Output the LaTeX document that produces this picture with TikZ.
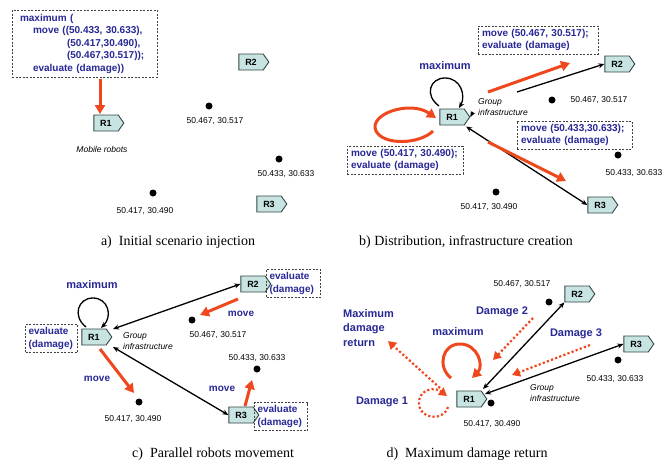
\documentclass[tikz,border=0pt]{standalone}
\usepackage{fontspec}
\setmainfont{Liberation Serif}
\setsansfont{Liberation Sans}
\usetikzlibrary{arrows.meta,shapes.symbols}
\definecolor{myred}{RGB}{240,72,30}
\definecolor{myblue}{RGB}{40,40,150}
\definecolor{robfill}{RGB}{200,228,226}
\definecolor{robdraw}{RGB}{50,70,70}
\tikzset{
  robot/.style={shape=signal, signal to=east, signal pointer angle=110, draw=robdraw, fill=robfill,
    line width=0.9pt, minimum width=30pt, minimum height=16pt, inner sep=1pt,
    font=\sffamily\bfseries\fontsize{9}{9}\selectfont},
  cbox/.style={draw=black!75, dash pattern=on 2pt off 1.5pt, line width=0.8pt, text=myblue,
    font=\sffamily\bfseries\fontsize{10}{12.5}\selectfont, align=left, inner sep=3pt},
  dot/.style={circle, fill=black, inner sep=0pt, minimum size=7pt},
  coordlbl/.style={font=\sffamily\fontsize{8.5}{9}\selectfont, inner sep=0pt},
  grouplbl/.style={font=\sffamily\itshape\fontsize{8.5}{10.5}\selectfont, align=left, inner sep=0pt},
  bluelbl/.style={font=\sffamily\bfseries\fontsize{11}{14}\selectfont, text=myblue, inner sep=0pt},
  movelbl/.style={font=\sffamily\bfseries\fontsize{10}{12}\selectfont, text=myblue, inner sep=0pt},
  caption/.style={font=\fontsize{14}{16}\selectfont, inner sep=0pt},
  redarr/.style={draw=myred, line width=3pt, -{Triangle[length=9pt,width=10pt]}},
  redloop/.style={draw=myred, line width=3pt, -{Triangle[length=9pt,width=10pt]}},
  reddot/.style={draw=myred, line width=2.2pt, dash pattern=on 2.2pt off 2.2pt, -{Triangle[length=8pt,width=9pt]}},
  blkarr/.style={draw=black, line width=1.3pt, -{Stealth[length=6pt,width=5pt]}},
  blkdbl/.style={draw=black, line width=1.3pt, {Stealth[length=6pt,width=5pt]}-{Stealth[length=6pt,width=5pt]}},
}
\begin{document}
\begin{tikzpicture}[x=1pt,y=-1pt]
\useasboundingbox[fill=white] (0,0) rectangle (671,464);

% ---------------- panel a
\node[cbox, minimum width=145pt, minimum height=67pt, text width=129pt] (boxA) at (84.5,43.5)
 {maximum (\\ \hspace*{13pt}move ((50.433, 30.633),\\ \hspace*{47pt}(50.417,30.490),\\ \hspace*{47pt}(50.467,30.517));\\ \hspace*{13pt}evaluate (damage))};
\node[robot] (R1a) at (106,123) {R1};
\coordinate (a0) at (100,79);
\coordinate (a1) at (100,114);
\draw[redarr] (a0) -- (a1);
\node[grouplbl] (mob) at (102,149) {Mobile robots};
\node[robot] (R2a) at (251,62) {R2};
\node[dot] (da1) at (209,106) {};
\node[coordlbl] (la1) at (215,121) {50.467, 30.517};
\node[dot] (da2) at (279,159) {};
\node[coordlbl] (la2) at (286,174) {50.433, 30.633};
\node[dot] (da3) at (153,193) {};
\node[coordlbl] (la3) at (145,211) {50.417, 30.490};
\node[robot] (R3a) at (269,204) {R3};
\node[caption] (capA) at (178,242) {a)\ \ Initial scenario injection};

% ---------------- panel b
\node[cbox, minimum width=120pt, minimum height=26pt, text width=112pt] (boxB1) at (538,40)
 {move (50.467, 30.517);\\ evaluate (damage)};
\node[robot] (R2b) at (617,64) {R2};
\node[bluelbl] (maxb) at (445,66) {maximum};
\node[robot] (R1b) at (452,117) {R1};
\coordinate (bl0) at (439,106);
\coordinate (bl1) at (459,108);
\draw[blkarr] (bl0) .. controls (424,95) and (430,78) .. (445,78) .. controls (461,78) and (466,96) .. (bl1);
\node[grouplbl, anchor=west] (grpb) at (478,107) {Group\\infrastructure};
\coordinate (g0) at (473,112);
\draw[blkarr] (g0) -- (R1b.east);
\coordinate (rl0) at (433,131);
\coordinate (rl1) at (436,118);
\draw[redloop] (rl0) .. controls (420,144) and (384,146) .. (376,131) .. controls (368,114) and (410,100) .. (rl1);
\node[cbox, minimum width=116pt, minimum height=26pt, text width=108pt] (boxB2) at (405,160)
 {move (50.417, 30.490);\\ evaluate (damage)};
\coordinate (r20) at (488,92);
\coordinate (r21) at (570,63);
\draw[redarr] (r20) -- (r21);
\coordinate (k20) at (517,92);
\draw[blkarr] (k20) -- (R2b.west);
\node[dot] (db1) at (552,100) {};
\node[coordlbl] (lb1) at (599,100) {50.467, 30.517};
\node[cbox, minimum width=115pt, minimum height=26pt, text width=107pt] (boxB3) at (574.5,135)
 {move (50.433,30.633);\\ evaluate (damage)};
\node[dot] (db2) at (618,155) {};
\node[coordlbl] (lb2) at (634,173) {50.433, 30.633};
\node[robot] (R3b) at (600,205) {R3};
\draw[blkdbl, shorten <=2pt] (R1b.south east) -- (R3b.west);
\coordinate (r30) at (488,142);
\coordinate (r31) at (566,181);
\draw[redarr] (r30) -- (r31);
\node[dot] (db3) at (496,192) {};
\node[coordlbl] (lb3) at (489,207) {50.417, 30.490};
\node[caption] (capB) at (466,242) {b) Distribution, infrastructure creation};

% ---------------- panel c
\node[bluelbl] (maxc) at (92,285) {maximum};
\node[robot] (R1c) at (94,337) {R1};
\coordinate (cl0) at (86,327);
\coordinate (cl1) at (101,328);
\draw[blkarr] (cl0) .. controls (72,316) and (78,298) .. (93,298) .. controls (108,298) and (113,316) .. (cl1);
\node[cbox, minimum width=51pt, minimum height=23pt, text width=46pt] (boxC1) at (51.5,338.5)
 {evaluate\\(damage)};
\node[grouplbl, anchor=west] (grpc) at (123,341) {Group\\infrastructure};
\node[robot] (R2c) at (253,284) {R2};
\node[cbox, minimum width=53pt, minimum height=23pt, text width=48pt] (boxC2) at (293.5,283.5)
 {evaluate\\(damage)};
\coordinate (k10) at (113,329);
\draw[blkdbl] (k10) -- (R2c.west);
\coordinate (m20) at (238,299);
\coordinate (m21) at (200,315);
\draw[redarr] (m20) -- (m21);
\node[movelbl] (mvc2) at (241,314) {move};
\node[dot] (dc1) at (192,320) {};
\node[coordlbl] (lc1) at (218,335) {50.467, 30.517};
\coordinate (m10) at (100,349);
\coordinate (m11) at (134,393);
\draw[redarr] (m10) -- (m11);
\node[movelbl] (mvc1) at (97,379) {move};
\node[dot] (dc2) at (139,402) {};
\node[coordlbl] (lc2) at (133,419) {50.417, 30.490};
\node[robot] (R3c) at (241,415) {R3};
\node[cbox, minimum width=52pt, minimum height=25pt, text width=47pt] (boxC3) at (281,416.5)
 {evaluate\\(damage)};
\coordinate (k30) at (113,347);
\draw[blkdbl] (k30) -- (R3c.west);
\coordinate (m30) at (245,406);
\coordinate (m31) at (252,380);
\draw[redarr] (m30) -- (m31);
\node[movelbl] (mvc3) at (222,389) {move};
\node[dot] (dc3) at (257,369) {};
\node[coordlbl] (lc3) at (257,358) {50.433, 30.633};
\node[caption] (capC) at (213,454) {c)\ \ Parallel robots movement};

% ---------------- panel d
\node[coordlbl] (ld1) at (522,284) {50.467, 30.517};
\node[robot] (R2d) at (577,294) {R2};
\node[dot] (dd1) at (549,302) {};
\node[bluelbl, align=left, anchor=west, font=\sffamily\bfseries\fontsize{11}{14.5}\selectfont] (mdr) at (343,328) {Maximum\\damage\\return};
\node[bluelbl] (dm2) at (502,312) {Damage 2};
\node[bluelbl] (maxd) at (458,332) {maximum};
\node[bluelbl] (dm3) at (576,334) {Damage 3};
\node[robot] (R3d) at (636,344) {R3};
\node[dot] (dd2) at (618,360) {};
\node[coordlbl] (ld2) at (615,379) {50.433, 30.633};
\node[robot] (R1d) at (469,399) {R1};
\node[dot] (dd3) at (491,403) {};
\node[coordlbl] (ld3) at (492,424) {50.417, 30.490};
\coordinate (dl0) at (451,378);
\coordinate (dl1) at (472,378);
\draw[redloop] (dl0) .. controls (437,367) and (442,344) .. (460,344) .. controls (478,344) and (484,366) .. (dl1);
\coordinate (k1d) at (483,389);
\coordinate (k2d) at (485,394);
\draw[blkdbl] (k1d) -- (R2d.south west);
\draw[blkdbl] (k2d) -- (R3d.west);
\node[grouplbl, anchor=west] (grpd) at (530,393) {Group\\infrastructure};
\coordinate (p20) at (533,318);
\coordinate (p21) at (493,360);
\draw[reddot] (p20) -- (p21);
\coordinate (p30) at (590,345);
\coordinate (p31) at (512,375);
\draw[reddot] (p30) -- (p31);
\coordinate (p10) at (440,388);
\coordinate (p11) at (388,341);
\draw[reddot] (p10) -- (p11);
\coordinate (q0) at (448,407);
\coordinate (q1) at (447,396);
\draw[reddot] (q0) .. controls (444,421) and (420,420) .. (419,404) .. controls (418,390) and (434,386) .. (q1);
\node[bluelbl] (dm1) at (382,402) {Damage 1};
\node[caption] (capD) at (467,454) {d)\ \ Maximum damage return};
\end{tikzpicture}
\end{document}
